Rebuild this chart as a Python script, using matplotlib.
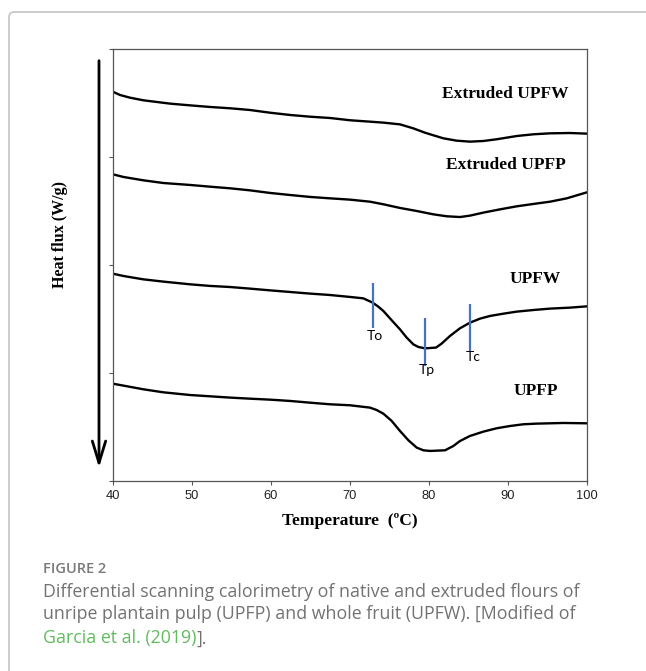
import numpy as np
import matplotlib
matplotlib.use("Agg")
import matplotlib.pyplot as plt
from matplotlib.patches import FancyArrowPatch, FancyBboxPatch

# temperatures (C) and heat flux (offset, arbitrary units)
t_early = [40.0, 41.35, 43.87, 46.40, 49.78, 52.31, 54.84, 57.37, 59.90, 62.43, 64.96, 67.49]

ext_upfw_t = [40.0, 40.92, 42.19, 43.87, 47.25, 49.78, 52.31, 54.84, 57.37, 59.90, 62.43, 64.96, 67.49,
              70.02, 72.55, 74.24, 76.34, 78.03, 79.50, 80.56, 81.82, 83.51, 85.20, 86.89, 88.57,
              91.10, 93.21, 95.32, 97.85, 100.0]
ext_upfw = [3.605, 3.574, 3.549, 3.525, 3.494, 3.478, 3.463, 3.451, 3.435, 3.410, 3.389, 3.373, 3.361,
            3.340, 3.327, 3.318, 3.302, 3.265, 3.225, 3.201, 3.173, 3.151, 3.142, 3.148, 3.164,
            3.194, 3.210, 3.219, 3.222, 3.216]

ext_upfp_t = t_early + [70.02, 72.55, 74.24, 76.34, 78.45, 80.56, 82.24, 83.93, 85.20, 86.89,
                        88.99, 91.10, 93.21, 95.32, 97.43, 100.0]
ext_upfp = [2.840, 2.815, 2.784, 2.759, 2.741, 2.725, 2.710, 2.691, 2.667, 2.648, 2.630, 2.617,
            2.605, 2.586, 2.562, 2.528, 2.500, 2.469, 2.451, 2.444, 2.457, 2.485,
            2.515, 2.543, 2.565, 2.586, 2.617, 2.673]

upfw_t = t_early + [70.02, 71.70, 72.89, 73.60, 74.24, 75.29, 76.34, 77.19, 78.03, 78.66, 79.50,
                    80.89, 81.61, 82.67, 83.93, 85.20, 86.46, 87.73, 89.41, 91.10, 93.21, 95.32,
                    97.85, 100.0]
upfw = [1.920, 1.898, 1.867, 1.846, 1.821, 1.806, 1.796, 1.781, 1.765, 1.750, 1.735, 1.722,
        1.704, 1.691, 1.651, 1.614, 1.574, 1.488, 1.404, 1.327, 1.265, 1.241, 1.228,
        1.235, 1.272, 1.343, 1.414, 1.466, 1.503, 1.528, 1.549, 1.568, 1.583, 1.596,
        1.605, 1.617]

upfp_t = t_early + [70.02, 72.55, 73.39, 74.24, 75.29, 76.34, 77.40, 78.45, 79.30, 80.14, 82.04,
                    83.09, 83.93, 85.20, 86.89, 88.57, 90.26, 91.95, 93.64, 97.01, 100.0]
upfp = [0.901, 0.883, 0.849, 0.821, 0.796, 0.784, 0.772, 0.762, 0.753, 0.741, 0.725, 0.710,
        0.701, 0.679, 0.657, 0.623, 0.556, 0.463, 0.377, 0.309, 0.284, 0.278, 0.284,
        0.324, 0.370, 0.417, 0.457, 0.488, 0.509, 0.525, 0.531, 0.537, 0.534]

curve_names = ["Extruded UPFW", "Extruded UPFP", "UPFW", "UPFP"]
label_xy = [(89.6, 3.58), (89.7, 2.93), (93.4, 1.87), (93.5, 0.83)]

# onset / peak / conclusion marks on UPFW
mark_names = ["To", "Tp", "Tc"]
mark_t = [72.9, 79.5, 85.2]
mark_top = [1.83, 1.51, 1.64]
mark_bot = [1.42, 1.06, 1.20]
mark_lab = [(73.2, 1.34), (79.7, 1.03), (85.6, 1.15)]

xticks = [40, 50, 60, 70, 80, 90, 100]

fig = plt.figure(figsize=(6.46, 6.71), dpi=100)
ax = fig.add_axes([0.1745, 0.2832, 0.7342, 0.6438])

for tt, yy in [(ext_upfw_t, ext_upfw), (ext_upfp_t, ext_upfp), (upfw_t, upfw), (upfp_t, upfp)]:
    ax.plot(tt, yy, color="black", lw=1.7, solid_capstyle="round")

for name, (lx, ly) in zip(curve_names, label_xy):
    ax.text(lx, ly, name, ha="center", va="center", fontsize=12.5,
            fontweight="bold", family="Liberation Serif")

for name, t, y0, y1, (lx, ly) in zip(mark_names, mark_t, mark_top, mark_bot, mark_lab):
    ax.vlines(t, y1, y0, color="#4472c4", lw=1.6)
    ax.text(lx, ly, name, ha="center", va="center", fontsize=10, family="Lato")

ax.set_xlim(40, 100)
ax.set_ylim(0, 4)
ax.set_xticks(xticks)
ax.set_yticks([0, 1, 2, 3, 4])
ax.set_yticklabels([])
ax.tick_params(direction="out", length=3, width=0.8, color="#555555",
               labelsize=9.3, labelcolor="#222222")
for lab in ax.get_xticklabels():
    lab.set_family("Liberation Sans")
for s in ax.spines.values():
    s.set_color("#555555")
    s.set_linewidth(0.9)

ax.set_xlabel("Temperature  (\u00baC)", fontsize=12.5, fontweight="bold",
              family="Liberation Serif", labelpad=8)
ax.set_ylabel("Heat flux (W/g)", fontsize=11.5, fontweight="bold", family="Liberation Serif")
ax.yaxis.set_label_coords(-0.094, 0.57)

# the big down arrow next to the y axis
arr = FancyArrowPatch((99 / 646, 1 - 60.7 / 671), (99 / 646, 1 - 467.7 / 671),
                      transform=fig.transFigure, arrowstyle="->,head_length=1.05,head_width=0.32",
                      mutation_scale=15, lw=2, color="black", shrinkA=0, shrinkB=0)
fig.add_artist(arr)

# panel frame
frame = FancyBboxPatch((9 / 646, -0.1), 1.2, 1 - 12 / 671 + 0.1, transform=fig.transFigure,
                       boxstyle="round,pad=0,rounding_size=0.008", fc="none",
                       ec="#c8c8c8", lw=1.3)
fig.add_artist(frame)

# caption
cap_x = 43 / 646
cap_size = 12.8
fig.text(cap_x, 1 - 572.7 / 671, "FIGURE 2", fontsize=10.5, color="#7a7a7a",
         family="Open Sans", fontweight="semibold")
fig.text(cap_x, 1 - 596.7 / 671,
         "Differential scanning calorimetry of native and extruded flours of",
         fontsize=cap_size, color="#727272", family="Open Sans")
fig.text(cap_x, 1 - 619.3 / 671,
         "unripe plantain pulp (UPFP) and whole fruit (UPFW). [Modified of",
         fontsize=cap_size, color="#727272", family="Open Sans")
g = fig.text(cap_x, 1 - 643.3 / 671, "Garcia et al. (2019)", fontsize=cap_size,
             color="#62bb5e", family="Open Sans")
fig.canvas.draw()
bb = g.get_window_extent(renderer=fig.canvas.get_renderer())
fig.text(bb.x1 / fig.bbox.width, 1 - 643.3 / 671, "].", fontsize=cap_size,
         color="#727272", family="Open Sans")

fig.savefig("out.png", dpi=100)
